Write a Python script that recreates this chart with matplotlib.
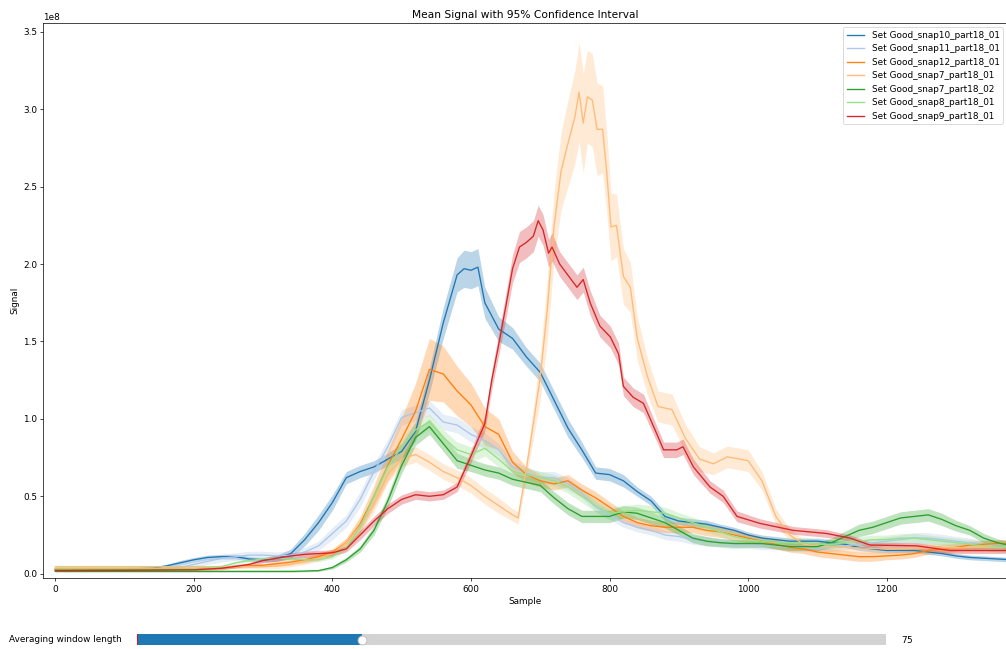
import matplotlib
matplotlib.use("Agg")
import matplotlib.pyplot as plt
import numpy as np
from matplotlib.widgets import Slider

# values, signal in units of 1e8
grid = list(range(0, 1381, 20))

snap10_x = [0, 100, 140, 160, 180, 200, 220, 240, 260, 280, 300, 320, 340, 360, 380, 400, 420, 440, 460, 480,
            500, 520, 540, 560, 580, 590, 600, 610, 620, 640, 660, 680, 700, 720, 740, 760, 780, 800, 820, 840,
            860, 880, 900, 920, 940, 960, 980, 1000, 1020, 1040, 1060, 1080, 1100, 1120, 1140, 1160, 1180, 1200,
            1220, 1240, 1260, 1280, 1300, 1320, 1340, 1360, 1380]
snap10_y = [0.03, 0.03, 0.035, 0.05, 0.07, 0.09, 0.105, 0.11, 0.11, 0.095, 0.09, 0.10, 0.13, 0.22, 0.33, 0.46,
            0.62, 0.66, 0.69, 0.74, 0.79, 0.92, 1.25, 1.62, 1.93, 1.97, 1.96, 1.98, 1.75, 1.58, 1.52, 1.40, 1.30,
            1.12, 0.94, 0.80, 0.65, 0.64, 0.60, 0.53, 0.47, 0.37, 0.34, 0.33, 0.32, 0.30, 0.28, 0.25, 0.23, 0.22,
            0.21, 0.21, 0.21, 0.20, 0.19, 0.17, 0.16, 0.15, 0.15, 0.15, 0.14, 0.13, 0.115, 0.105, 0.10, 0.095, 0.09]
snap10_ci = [0.01, 0.01, 0.01, 0.01, 0.015, 0.015, 0.015, 0.015, 0.015, 0.015, 0.015, 0.02, 0.03, 0.04, 0.05,
             0.05, 0.04, 0.04, 0.04, 0.04, 0.05, 0.06, 0.08, 0.10, 0.11, 0.12, 0.12, 0.12, 0.10, 0.08, 0.07, 0.06,
             0.06, 0.06, 0.06, 0.05, 0.04, 0.04, 0.04, 0.03, 0.03, 0.03, 0.025, 0.025, 0.025, 0.02, 0.02, 0.02,
             0.02, 0.02, 0.02, 0.02, 0.02, 0.02, 0.02, 0.02, 0.02, 0.015, 0.015, 0.015, 0.015, 0.015, 0.015,
             0.015, 0.015, 0.015, 0.015]

snap11_y = [0.03, 0.03, 0.03, 0.03, 0.03, 0.03, 0.03, 0.03, 0.035, 0.04,
            0.06, 0.08, 0.10, 0.11, 0.12, 0.12, 0.115, 0.12, 0.14, 0.18,
            0.26, 0.34, 0.48, 0.66, 0.82, 1.01, 1.04, 1.07, 0.98, 0.96,
            0.90, 0.86, 0.80, 0.69, 0.65, 0.62, 0.62, 0.58, 0.52, 0.43,
            0.38, 0.33, 0.30, 0.28, 0.25, 0.24, 0.22, 0.21, 0.20, 0.19,
            0.19, 0.18, 0.18, 0.17, 0.17, 0.16, 0.17, 0.18, 0.19, 0.20,
            0.21, 0.22, 0.23, 0.23, 0.22, 0.21, 0.20, 0.19, 0.19, 0.19]
snap11_ci = [0.01, 0.01, 0.01, 0.01, 0.01, 0.01, 0.01, 0.01, 0.015, 0.015,
             0.02, 0.02, 0.025, 0.025, 0.025, 0.025, 0.025, 0.025, 0.03, 0.03,
             0.04, 0.04, 0.05, 0.05, 0.05, 0.05, 0.05, 0.05, 0.05, 0.05,
             0.05, 0.05, 0.04, 0.04, 0.04, 0.04, 0.04, 0.04, 0.03, 0.03,
             0.03, 0.03, 0.03, 0.03, 0.03, 0.03, 0.03, 0.03, 0.03, 0.03,
             0.025, 0.025, 0.025, 0.025, 0.025, 0.025, 0.025, 0.025, 0.025, 0.025,
             0.03, 0.03, 0.035, 0.035, 0.035, 0.03, 0.03, 0.025, 0.025, 0.025]

snap12_y = [0.025, 0.025, 0.025, 0.025, 0.025, 0.025, 0.025, 0.025, 0.028, 0.03,
            0.03, 0.035, 0.04, 0.045, 0.05, 0.055, 0.065, 0.075, 0.09, 0.11,
            0.14, 0.20, 0.32, 0.50, 0.70, 0.87, 1.05, 1.32, 1.29, 1.18,
            1.09, 0.95, 0.90, 0.72, 0.64, 0.60, 0.58, 0.60, 0.54, 0.49,
            0.43, 0.37, 0.33, 0.31, 0.30, 0.30, 0.30, 0.28, 0.27, 0.25,
            0.23, 0.21, 0.19, 0.17, 0.16, 0.14, 0.13, 0.12, 0.11, 0.11,
            0.115, 0.12, 0.13, 0.15, 0.16, 0.17, 0.185, 0.19, 0.195, 0.195]
snap12_ci = [0.01, 0.01, 0.01, 0.01, 0.01, 0.01, 0.01, 0.01, 0.01, 0.01,
             0.01, 0.01, 0.01, 0.01, 0.01, 0.01, 0.015, 0.015, 0.02, 0.02,
             0.02, 0.03, 0.05, 0.07, 0.10, 0.14, 0.18, 0.20, 0.18, 0.16,
             0.14, 0.12, 0.10, 0.07, 0.05, 0.04, 0.04, 0.04, 0.04, 0.04,
             0.035, 0.035, 0.035, 0.035, 0.035, 0.035, 0.035, 0.035, 0.035, 0.035,
             0.03, 0.03, 0.03, 0.03, 0.03, 0.03, 0.03, 0.03, 0.03, 0.03,
             0.025, 0.025, 0.025, 0.025, 0.025, 0.025, 0.025, 0.025, 0.025, 0.025]

snap7_01_x = [0, 100, 200, 280, 300, 320, 340, 360, 380, 400, 420, 440, 460, 480, 500, 520, 540, 560, 580, 600,
              620, 640, 660, 668, 680, 690, 700, 710, 720, 730, 740, 750, 756, 762, 768, 775, 782, 790, 796, 802,
              810, 820, 830, 840, 855, 870, 890, 910, 930, 950, 970, 1000, 1020, 1040, 1060, 1080, 1100, 1140,
              1200, 1260, 1320, 1380]
snap7_01_y = [0.045, 0.045, 0.045, 0.045, 0.045, 0.05, 0.06, 0.08, 0.10, 0.13,
              0.20, 0.31, 0.45, 0.64, 0.74, 0.77, 0.72, 0.66, 0.62, 0.57,
              0.50, 0.44, 0.38, 0.36, 0.68, 0.97, 1.27, 1.70, 2.25, 2.60,
              2.78, 2.95, 3.11, 2.91, 3.08, 3.06, 2.87, 2.87, 2.59, 2.24,
              2.25, 1.92, 1.85, 1.52, 1.27, 1.08, 1.06, 0.87, 0.74, 0.71,
              0.755, 0.73, 0.60, 0.37, 0.25, 0.19, 0.18, 0.17, 0.16, 0.165,
              0.17, 0.17]
snap7_01_ci = [0.01, 0.01, 0.01, 0.01, 0.01, 0.015, 0.015, 0.02, 0.02, 0.02,
               0.03, 0.04, 0.05, 0.05, 0.05, 0.05, 0.05, 0.05, 0.05, 0.05,
               0.05, 0.05, 0.04, 0.04, 0.06, 0.10, 0.15, 0.20, 0.22, 0.25,
               0.28, 0.30, 0.32, 0.32, 0.30, 0.30, 0.30, 0.28, 0.26, 0.22,
               0.20, 0.18, 0.16, 0.14, 0.12, 0.10, 0.10, 0.09, 0.08, 0.07,
               0.07, 0.07, 0.06, 0.05, 0.04, 0.03, 0.03, 0.03, 0.03, 0.03,
               0.03, 0.03]

snap7_02_y = [0.015, 0.015, 0.015, 0.015, 0.015, 0.015, 0.015, 0.015, 0.015, 0.015,
              0.015, 0.015, 0.015, 0.015, 0.015, 0.015, 0.015, 0.015, 0.017, 0.02,
              0.04, 0.09, 0.16, 0.28, 0.47, 0.70, 0.88, 0.95, 0.84, 0.73,
              0.70, 0.67, 0.65, 0.61, 0.59, 0.57, 0.49, 0.42, 0.37, 0.37,
              0.37, 0.40, 0.39, 0.36, 0.33, 0.28, 0.23, 0.21, 0.20, 0.195,
              0.195, 0.195, 0.185, 0.175, 0.175, 0.175, 0.20, 0.24, 0.28, 0.30,
              0.33, 0.36, 0.37, 0.38, 0.35, 0.31, 0.28, 0.23, 0.20, 0.18]
snap7_02_ci = [0.005] * 20 + [0.01, 0.015, 0.02, 0.03, 0.04, 0.05, 0.05, 0.05, 0.05, 0.05,
                              0.04, 0.04, 0.04, 0.04, 0.04, 0.04, 0.04, 0.04, 0.04, 0.04,
                              0.04, 0.04, 0.04, 0.04, 0.035, 0.03, 0.03, 0.03, 0.025, 0.025,
                              0.025, 0.025, 0.025, 0.025, 0.025, 0.025, 0.03, 0.035, 0.04, 0.04,
                              0.04, 0.04, 0.04, 0.04, 0.04, 0.035, 0.03, 0.03, 0.025, 0.025]

snap8_y = [0.035, 0.035, 0.035, 0.035, 0.035, 0.035, 0.035, 0.035, 0.035, 0.035,
           0.035, 0.038, 0.045, 0.07, 0.085, 0.095, 0.10, 0.095, 0.09, 0.09,
           0.11, 0.17, 0.30, 0.50, 0.69, 0.82, 0.93, 0.98, 0.88, 0.80,
           0.77, 0.81, 0.74, 0.66, 0.64, 0.62, 0.60, 0.56, 0.50, 0.44,
           0.39, 0.40, 0.41, 0.40, 0.39, 0.36, 0.33, 0.30, 0.27, 0.24,
           0.22, 0.21, 0.20, 0.20, 0.20, 0.19, 0.19, 0.20, 0.21, 0.22,
           0.22, 0.23, 0.23, 0.22, 0.21, 0.20, 0.19, 0.18, 0.17, 0.17]
snap8_ci = [0.01] * 20 + [0.015, 0.02, 0.03, 0.04, 0.05, 0.05, 0.05, 0.05, 0.05, 0.05,
                          0.05, 0.05, 0.05, 0.04, 0.04, 0.04, 0.04, 0.04, 0.04, 0.04,
                          0.04, 0.04, 0.04, 0.04, 0.04, 0.035, 0.035, 0.03, 0.03, 0.03] + [0.03] * 20

snap9_x = [0, 100, 200, 240, 280, 300, 320, 340, 360, 380, 400, 420, 440, 460, 480, 500, 520, 540, 560, 580,
           600, 620, 630, 640, 650, 660, 670, 680, 690, 697, 704, 712, 717, 728, 738, 753, 762, 772, 786, 801,
           813, 820, 834, 849, 868, 878, 897, 906, 921, 945, 964, 984, 1017, 1065, 1113, 1147, 1176, 1243,
           1291, 1339, 1380]
snap9_y = [0.02, 0.022, 0.025, 0.035, 0.06, 0.085, 0.10, 0.115, 0.125, 0.13,
           0.135, 0.16, 0.25, 0.34, 0.42, 0.48, 0.51, 0.50, 0.51, 0.56,
           0.76, 0.97, 1.25, 1.48, 1.72, 1.97, 2.11, 2.14, 2.18, 2.28,
           2.22, 2.07, 2.11, 2.00, 1.94, 1.85, 1.90, 1.75, 1.60, 1.53,
           1.42, 1.21, 1.14, 1.10, 0.905, 0.80, 0.80, 0.82, 0.69, 0.56,
           0.50, 0.37, 0.325, 0.28, 0.26, 0.23, 0.185, 0.18, 0.15, 0.15,
           0.15]
snap9_ci = [0.005, 0.005, 0.005, 0.01, 0.01, 0.015, 0.02, 0.02, 0.02, 0.02,
            0.02, 0.02, 0.03, 0.03, 0.03, 0.03, 0.03, 0.03, 0.03, 0.03,
            0.04, 0.05, 0.06, 0.07, 0.08, 0.09, 0.10, 0.10, 0.10, 0.10,
            0.10, 0.09, 0.09, 0.08, 0.08, 0.08, 0.08, 0.08, 0.07, 0.07,
            0.07, 0.06, 0.06, 0.06, 0.05, 0.05, 0.05, 0.05, 0.05, 0.04,
            0.04, 0.035, 0.03, 0.025, 0.025, 0.02, 0.02, 0.02, 0.02, 0.02,
            0.02]

names = ["Set Good_snap10_part18_01", "Set Good_snap11_part18_01", "Set Good_snap12_part18_01",
         "Set Good_snap7_part18_01", "Set Good_snap7_part18_02", "Set Good_snap8_part18_01",
         "Set Good_snap9_part18_01"]
xs = [snap10_x, grid, grid, snap7_01_x, grid, grid, snap9_x]
ys = [snap10_y, snap11_y, snap12_y, snap7_01_y, snap7_02_y, snap8_y, snap9_y]
cis = [snap10_ci, snap11_ci, snap12_ci, snap7_01_ci, snap7_02_ci, snap8_ci, snap9_ci]

colors = plt.get_cmap("tab20").colors

fig = plt.figure(figsize=(1006 / 64, 649 / 64), dpi=64)
# right spine sits just past the figure edge, as in the reference
ax = fig.add_axes([43.3 / 1006, 70.7 / 649, 964.2 / 1006, 555.3 / 649])

for i in range(len(names)):
    x = np.array(xs[i])
    y = np.array(ys[i]) * 1e8
    ci = np.array(cis[i]) * 1e8
    c = colors[i]
    ax.plot(x, y, color=c, label=names[i])
    ax.fill_between(x, y - ci, y + ci, color=c, alpha=0.3, linewidth=0)

ax.set_xlim(-17.3, 1374.4)
ax.set_ylim(-0.0297e8, 3.557e8)
ax.set_title("Mean Signal with 95% Confidence Interval")
ax.set_xlabel("Sample")
ax.set_ylabel("Signal")
ax.legend(loc="upper right")

sax = fig.add_axes([137 / 1006, -1.5 / 649, 749 / 1006, 22 / 649])
slider = Slider(sax, "Averaging window length", 0, 250, valinit=0, valstep=1)
slider.set_val(75)

fig.savefig("out.png", dpi=64)
